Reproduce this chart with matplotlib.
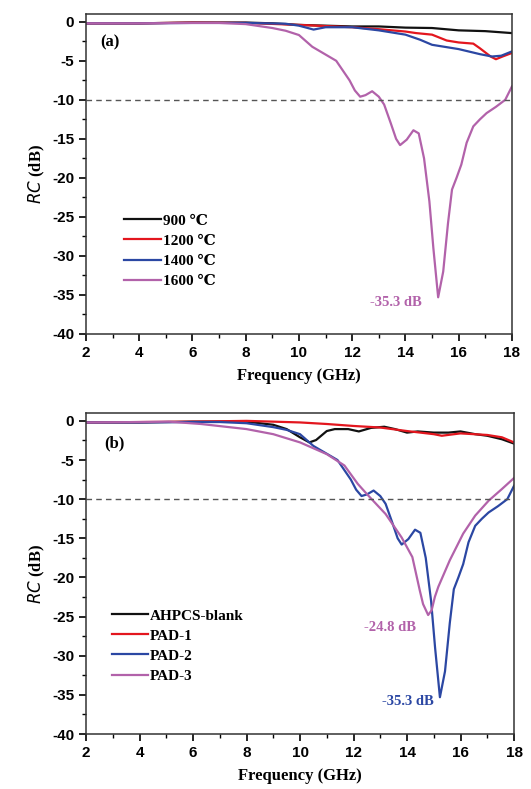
import matplotlib
matplotlib.use("Agg")
import matplotlib.pyplot as plt
from matplotlib.ticker import MultipleLocator

plt.rcParams["axes.unicode_minus"] = False

# 数据：反射损耗曲线
f_900 = [2, 4, 6, 8, 9, 10, 11, 12, 13, 14, 15, 16, 17, 18]
rc_900 = [-0.2, -0.2, -0.1, -0.1, -0.2, -0.4, -0.5, -0.6, -0.6, -0.75, -0.8, -1.1, -1.2, -1.45]

f_1200 = [2, 4, 6, 8, 10, 12, 13, 14, 14.4, 15, 15.55, 16, 16.55, 16.8, 17.2, 17.4, 17.65, 18]
rc_1200 = [-0.2, -0.2, -0.1, -0.15, -0.4, -0.7, -0.95, -1.25, -1.45, -1.65, -2.4, -2.65, -2.8, -3.4, -4.45, -4.8, -4.45, -4.0]

f_1400 = [2, 4, 6, 8, 9.5, 10, 10.55, 11, 12, 13, 14, 14.55, 15, 16, 16.8, 17.25, 17.6, 18]
rc_1400 = [-0.2, -0.2, -0.15, -0.15, -0.25, -0.5, -1.0, -0.7, -0.7, -1.1, -1.65, -2.3, -2.95, -3.5, -4.15, -4.45, -4.35, -3.8]

# 1600 ℃ 与 PAD-2 为同一条曲线
f_1600 = [2, 4, 6, 7, 8, 9, 9.5, 10, 10.5, 11, 11.4, 11.9, 12.1, 12.3, 12.5, 12.75, 13.0, 13.2,
          13.45, 13.65, 13.8, 14.05, 14.3, 14.5, 14.7, 14.9, 15.05, 15.23, 15.42, 15.6, 15.75,
          15.92, 16.1, 16.3, 16.55, 16.8, 17.05, 17.4, 17.75, 18]
rc_1600 = [-0.2, -0.2, -0.15, -0.15, -0.3, -0.8, -1.15, -1.7, -3.2, -4.2, -5.0, -7.5, -8.8, -9.6,
           -9.4, -8.9, -9.6, -10.6, -13.0, -15.0, -15.8, -15.1, -13.9, -14.3, -17.5, -23.0, -29.0,
           -35.3, -32.0, -25.8, -21.5, -20.0, -18.3, -15.5, -13.4, -12.5, -11.7, -10.9, -10.0, -8.3]

f_blank = [2, 4, 6, 8, 9, 9.5, 10, 10.35, 10.6, 11, 11.3, 11.8, 12.2, 12.65, 13.15, 13.55, 14, 14.4,
           15, 15.55, 16, 16.55, 17, 17.55, 18]
rc_blank = [-0.2, -0.2, -0.1, -0.1, -0.5, -1.05, -2.1, -2.75, -2.45, -1.3, -1.05, -1.05, -1.35, -0.9,
            -0.75, -1.05, -1.5, -1.35, -1.5, -1.5, -1.35, -1.7, -1.9, -2.35, -2.9]

f_pad1 = [2, 4, 6, 8, 10, 11, 12, 13, 14, 15, 15.3, 16, 17, 17.55, 18]
rc_pad1 = [-0.2, -0.15, -0.1, 0.0, -0.2, -0.4, -0.65, -0.85, -1.3, -1.7, -1.9, -1.6, -1.8, -2.1, -2.75]

f_pad3 = [2, 4, 5.1, 6.3, 8, 9, 10, 11, 11.66, 12.16, 12.5, 13.2, 13.8, 14.2, 14.48, 14.6, 14.79,
          14.92, 15.04, 15.17, 15.6, 16.1, 16.55, 17.05, 17.55, 18]
rc_pad3 = [-0.2, -0.15, -0.1, -0.4, -1.05, -1.7, -2.75, -4.25, -5.7, -8.05, -9.35, -11.9, -14.9, -17.4,
           -21.7, -23.4, -24.8, -24.2, -22.5, -21.2, -17.8, -14.4, -12.1, -10.2, -8.7, -7.3]

c_black = "#111111"
c_red = "#e3161e"
c_blue = "#2b47a3"
c_purple = "#b262aa"

serif = ["Liberation Serif", "DejaVu Serif"]
sans = ["Liberation Sans", "DejaVu Sans"]

fig = plt.figure(figsize=(5.31, 7.89), dpi=100)
ax_a = fig.add_axes([0.162, 0.5767, 0.802, 0.4056])
ax_b = fig.add_axes([0.162, 0.0697, 0.806, 0.4068])


def style_axes(ax):
    ax.set_xlim(2, 18)
    ax.set_ylim(-40, 1)
    ax.xaxis.set_major_locator(MultipleLocator(2))
    ax.xaxis.set_minor_locator(MultipleLocator(1))
    ax.yaxis.set_major_locator(MultipleLocator(5))
    ax.yaxis.set_minor_locator(MultipleLocator(2.5))
    ax.tick_params(which="major", direction="out", length=5, width=1.2)
    ax.tick_params(which="minor", direction="out", length=3, width=1.0)
    for lab in ax.get_xticklabels() + ax.get_yticklabels():
        lab.set_family(sans)
        lab.set_fontweight("bold")
        lab.set_fontsize(11)
    for sp in ax.spines.values():
        sp.set_linewidth(1.1)
        sp.set_color("#333333")
    ax.axhline(-10, color="#555555", ls="--", lw=1.0, dashes=(4, 3))
    ax.set_xlabel("Frequency (GHz)", family=serif, fontweight="bold", fontsize=12, labelpad=6)
    ax.set_ylabel(r"$\mathbf{\mathit{RC}}$ (dB)", family=serif, fontweight="bold", fontsize=12, labelpad=4)


# (a)
ax_a.plot(f_900, rc_900, color=c_black, lw=1.6, label="900 ℃")
ax_a.plot(f_1200, rc_1200, color=c_red, lw=1.6, label="1200 ℃")
ax_a.plot(f_1400, rc_1400, color=c_blue, lw=1.6, label="1400 ℃")
ax_a.plot(f_1600, rc_1600, color=c_purple, lw=1.6, label="1600 ℃")
style_axes(ax_a)
ax_a.text(2.55, -2.7, "(a)", family=serif, fontweight="bold", fontsize=12, va="center")
ax_a.text(13.65, -36.0, "-35.3 dB", color=c_purple, family=serif, fontweight="bold",
          fontsize=10.5, ha="center", va="center")
ax_a.legend(loc="upper left", bbox_to_anchor=(0.09, 0.375), frameon=False, borderpad=0,
            borderaxespad=0, handlelength=2.4, handletextpad=0.1, labelspacing=0.42,
            prop={"family": serif, "weight": "bold", "size": 11})

# (b)
ax_b.plot(f_blank, rc_blank, color=c_black, lw=1.6, label="AHPCS-blank")
ax_b.plot(f_pad1, rc_pad1, color=c_red, lw=1.6, label="PAD-1")
ax_b.plot(f_1600, rc_1600, color=c_blue, lw=1.6, label="PAD-2")
ax_b.plot(f_pad3, rc_pad3, color=c_purple, lw=1.6, label="PAD-3")
style_axes(ax_b)
ax_b.text(2.7, -2.9, "(b)", family=serif, fontweight="bold", fontsize=12, va="center")
ax_b.text(13.35, -26.4, "-24.8 dB", color=c_purple, family=serif, fontweight="bold",
          fontsize=10.5, ha="center", va="center")
ax_b.text(14.05, -35.9, "-35.3 dB", color=c_blue, family=serif, fontweight="bold",
          fontsize=10.5, ha="center", va="center")
ax_b.legend(loc="upper left", bbox_to_anchor=(0.06, 0.39), frameon=False, borderpad=0,
            borderaxespad=0, handlelength=2.4, handletextpad=0.1, labelspacing=0.42,
            prop={"family": serif, "weight": "bold", "size": 11})

fig.savefig("out.png", dpi=100)
